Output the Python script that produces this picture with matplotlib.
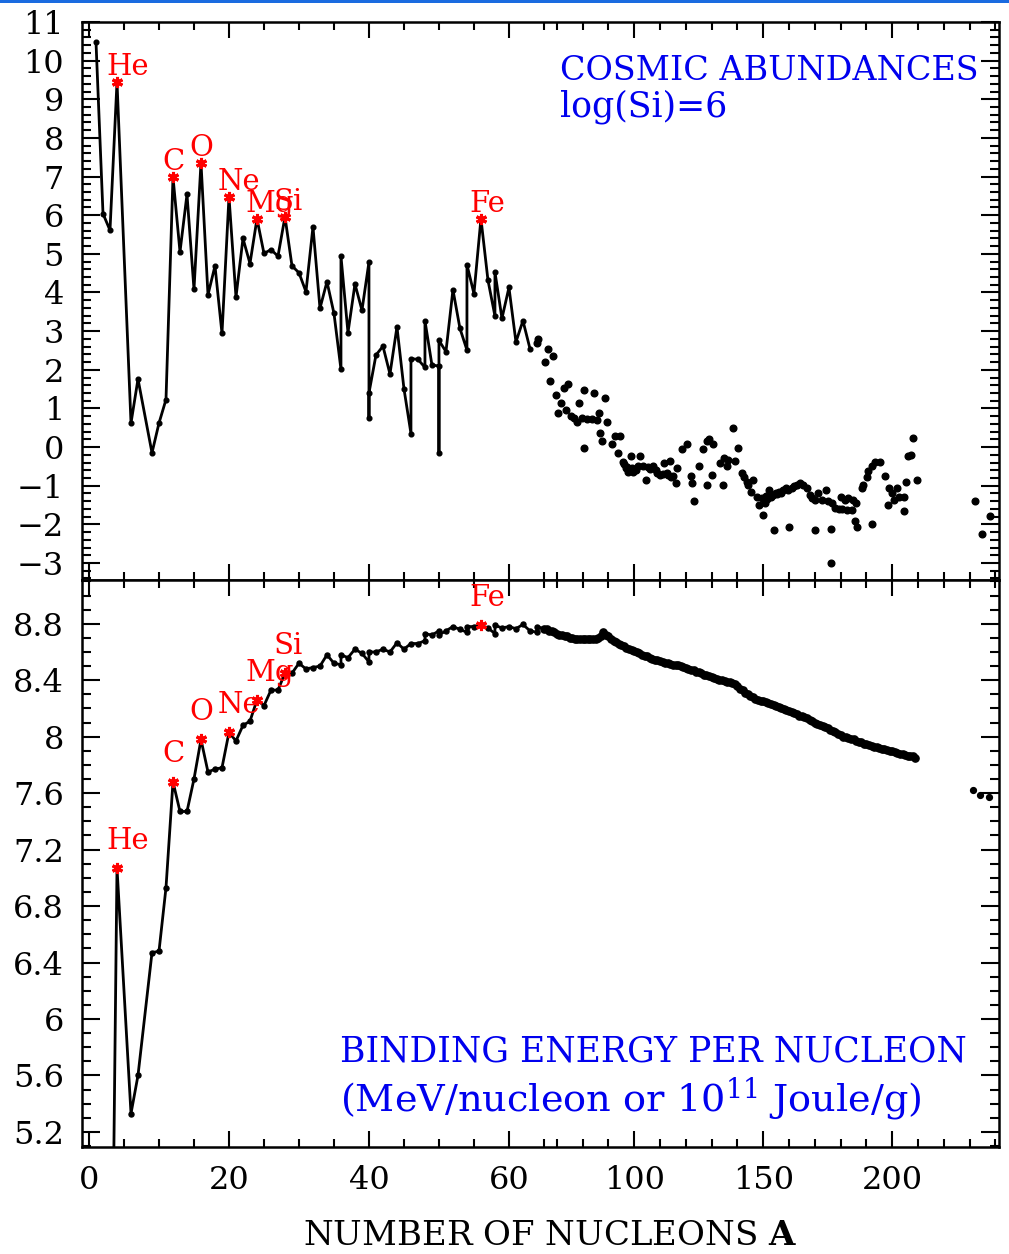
import numpy as np
import matplotlib
matplotlib.use('Agg')
import matplotlib.pyplot as plt
from matplotlib.ticker import FixedLocator, MultipleLocator, FuncFormatter
from matplotlib.patches import Rectangle

plt.rcParams['font.family'] = ['DejaVu Serif']
plt.rcParams['mathtext.fontset'] = 'dejavuserif'

# log abundances (Si = 10^6), connected part, sorted by mass number
abund_A = [1, 2, 3, 4, 6, 7, 9, 10, 11,
           12, 13, 14, 15, 16, 17, 18, 19, 20, 21, 22, 23, 24, 25, 26, 27,
           28, 29, 30, 31, 32, 33, 34, 35, 36, 36, 37, 38, 39, 40, 40, 40,
           41, 42, 43, 44, 45, 46, 46, 47, 48, 48, 49, 50, 50, 50, 51, 52,
           53, 54, 54, 55, 56, 57, 58, 58, 59, 60, 61, 62, 63]
abund_val = [10.48, 6.04, 5.61, 9.45, 0.62, 1.76, -0.15, 0.62, 1.23,
             6.99, 5.05, 6.54, 4.08, 7.36, 3.94, 4.69, 2.94, 6.48, 3.88, 5.40, 4.75, 5.91, 5.01, 5.11, 4.94,
             5.96, 4.69, 4.51, 4.02, 5.70, 3.59, 4.28, 3.46, 2.01, 4.94, 2.96, 4.22, 3.54, 4.79, 0.74, 1.40,
             2.38, 2.61, 1.89, 3.11, 1.51, 0.35, 2.29, 2.27, 2.06, 3.27, 2.12, 2.10, -0.15, 2.76, 2.47, 4.07,
             3.07, 2.51, 4.72, 3.97, 5.91, 4.32, 3.39, 4.53, 3.33, 4.13, 2.72, 3.27, 2.55]

# heavier isotopes, drawn as loose dots
heavy_A = [64.0, 64.2, 65.4, 66.4, 67.3, 68.4, 69.5, 70.3, 71.6, 72.8, 73.4, 74.4, 75.5, 76.7,
           77.7, 78.6, 79.6, 80.6, 80.6, 81.6, 83.5, 84.5, 85.4, 86.3, 86.7, 87.4, 88.6, 89.5,
           91.5, 92.5, 93.6, 94.5, 95.7, 96.2, 96.8, 97.2, 97.7, 98.6, 99.0, 99.6, 100.5, 101.6,
           102.2, 103.5, 104.4, 105.4, 106.3, 107.3, 108.3, 109.0, 110.0, 111.0, 111.6, 112.6,
           113.0, 113.8, 114.1, 115.1, 116.2, 116.5, 118.4, 120.3, 121.9, 122.5, 123.3, 125.2,
           126.8, 128.3, 128.3, 129.1, 130.2, 130.6, 133.2, 134.3, 134.8, 135.8, 136.4, 138.1,
           139.0, 140.1, 141.6, 142.5, 143.6, 144.2, 145.2, 146.1, 147.4, 148.4, 149.7, 150.0,
           150.8, 151.0, 151.6, 152.3, 153.0, 153.6, 154.3, 154.9, 155.5, 156.2, 157.0, 157.5,
           158.8, 159.5, 160.1, 161.0, 162.1, 163.0, 164.1, 165.3, 167.0, 168.1, 168.9, 170.0,
           170.1, 171.4, 172.7, 174.3, 175.0, 176.1, 176.1, 176.5, 177.9, 179.2, 180.2, 180.5,
           181.6, 182.4, 182.8, 184.4, 184.8, 185.4, 186.1, 186.4, 188.2, 188.8, 190.1, 190.7,
           192.0, 192.0, 193.3, 195.2, 197.2, 198.2, 198.7, 200.0, 200.6, 201.9, 202.5, 204.4,
           204.4, 205.4, 206.3, 207.2, 208.2, 209.5, 232.0, 235.0, 238.0]
heavy_val = [2.70, 2.80, 2.19, 2.53, 1.70, 2.36, 1.34, 0.87, 1.15, 1.52, 0.96, 1.62, 0.81, 0.76,
             0.64, 1.15, 0.74, 1.47, -0.02, 0.73, 0.72, 1.40, 0.70, 0.87, 0.37, 0.16, 1.27, 0.64,
             0.08, 0.29, -0.16, 0.29, -0.39, -0.45, -0.55, -0.52, -0.64, -0.23, -0.55, -0.64, -0.60, -0.50,
             -0.23, -0.50, -0.84, -0.52, -0.58, -0.50, -0.60, -0.66, -0.73, -0.70, -0.42, -0.67,
             -0.72, -0.36, -0.77, -0.75, -0.94, -0.55, -0.06, 0.08, -0.75, -0.92, -1.39, -0.49,
             -0.06, 0.16, -0.98, 0.20, -0.73, 0.09, -0.42, -0.98, -0.29, -0.50, -0.33, 0.50,
             -0.35, -0.02, -0.67, -0.77, -0.90, -0.98, -1.17, -0.86, -1.28, -1.50, -1.31, -1.76,
             -1.45, -1.26, -1.35, -1.11, -1.30, -1.23, -2.15, -1.19, -1.22, -1.15, -1.18, -1.11,
             -1.06, -1.10, -2.06, -1.05, -1.01, -0.98, -0.94, -0.98, -1.06, -1.24, -1.33, -2.15,
             -1.36, -1.20, -1.36, -1.11, -1.40, -2.13, -3.01, -1.44, -1.57, -1.61, -1.28, -1.61,
             -1.36, -1.63, -1.32, -1.63, -1.36, -1.92, -1.44, -2.06, -1.07, -0.98, -0.77, -0.62,
             -0.49, -2.00, -0.38, -0.38, -0.75, -1.50, -1.07, -1.19, -1.36, -1.07, -1.28, -1.28,
             -1.65, -0.90, -0.23, -0.21, 0.24, -0.86, -1.39, -2.25, -1.78]

# binding energy per nucleon (MeV), light nuclei
be_A_light = [3, 4, 6, 7, 9, 10, 11, 12, 13, 14, 15, 16, 17, 18, 19, 20, 21, 22, 23, 24,
              25, 26, 27, 28, 29, 30, 31, 32, 33, 34, 35, 36, 36, 37, 38, 39, 40, 40, 41, 42,
              43, 44, 45, 46, 47, 48, 48, 49, 50, 50, 51, 52, 53, 54, 54, 55, 56, 57, 58, 58,
              59, 60, 61, 62, 63, 64, 64]
be_light = [2.60, 7.07, 5.33, 5.60, 6.47, 6.48, 6.93, 7.68, 7.47, 7.47, 7.70, 7.98, 7.75, 7.77, 7.78, 8.03, 7.97, 8.08, 8.11, 8.26,
            8.22, 8.33, 8.33, 8.45, 8.45, 8.52, 8.48, 8.49, 8.50, 8.58, 8.52, 8.51, 8.58, 8.56, 8.62, 8.59, 8.53, 8.60, 8.60, 8.62,
            8.60, 8.665, 8.62, 8.66, 8.66, 8.68, 8.73, 8.72, 8.75, 8.72, 8.75, 8.78, 8.76, 8.74, 8.78, 8.78, 8.79, 8.77, 8.73, 8.79,
            8.77, 8.78, 8.765, 8.795, 8.75, 8.74, 8.78]

# binding energy per nucleon, A = 65 ... 209
be_A_mid = list(range(65, 210))
be_mid = [8.765, 8.76, 8.75, 8.75, 8.74, 8.73, 8.72, 8.72, 8.71, 8.71,
          8.70, 8.70, 8.69, 8.69, 8.69, 8.69, 8.69, 8.69, 8.69, 8.69,
          8.69, 8.70, 8.71, 8.74, 8.72, 8.71, 8.69, 8.68, 8.67, 8.66,
          8.65, 8.64, 8.63, 8.62, 8.615, 8.61, 8.60, 8.59, 8.58, 8.575,
          8.57, 8.56, 8.55, 8.545, 8.54, 8.535, 8.53, 8.525, 8.52, 8.515,
          8.51, 8.51, 8.505, 8.50, 8.495, 8.49, 8.48, 8.475, 8.47, 8.46,
          8.455, 8.45, 8.44, 8.435, 8.43, 8.42, 8.415, 8.41, 8.405, 8.40,
          8.395, 8.39, 8.385, 8.38, 8.37, 8.36, 8.34, 8.33, 8.31, 8.30,
          8.29, 8.28, 8.27, 8.26, 8.255, 8.25, 8.245, 8.24, 8.23, 8.225,
          8.22, 8.21, 8.20, 8.195, 8.19, 8.18, 8.175, 8.17, 8.16, 8.15,
          8.145, 8.14, 8.13, 8.12, 8.11, 8.10, 8.09, 8.08, 8.075, 8.07,
          8.06, 8.05, 8.04, 8.03, 8.02, 8.01, 8.00, 7.995, 7.99, 7.985,
          7.98, 7.97, 7.965, 7.96, 7.95, 7.945, 7.94, 7.935, 7.93, 7.925,
          7.92, 7.915, 7.91, 7.905, 7.90, 7.895, 7.89, 7.885, 7.88, 7.875,
          7.87, 7.865, 7.86, 7.86, 7.85]

# Th / U region
be_A_act = [231.4, 234.0, 237.6]
be_act = [7.62, 7.59, 7.57]

elements = ['He', 'C', 'O', 'Ne', 'Mg', 'Si', 'Fe']
elem_A = [4, 12, 16, 20, 24, 28, 56]

x_major = [0, 20, 40, 60, 100, 150, 200]
x_minor = list(range(5, 66, 5)) + list(range(70, 241, 10))

# x axis: linear up to A=65, compressed beyond
BREAK = 65.0
SQUEEZE = 2.58 / 7.0


def fwd(a):
    a = np.asarray(a, dtype=float)
    return np.where(a <= BREAK, a, BREAK + (a - BREAK) * SQUEEZE)


def inv(u):
    u = np.asarray(u, dtype=float)
    return np.where(u <= BREAK, u, BREAK + (u - BREAK) / SQUEEZE)


W, H = 1009, 1254
fig = plt.figure(figsize=(W / 100, H / 100), dpi=100)
fig.add_artist(Rectangle((0, 1 - 3 / H), 1, 3 / H, transform=fig.transFigure,
                         color='#1a6be0', lw=0))

left, right = 82, 999
ax1 = fig.add_axes([left / W, 1 - 580 / H, (right - left) / W, (580 - 22) / H])
ax2 = fig.add_axes([left / W, 1 - 1147 / H, (right - left) / W, (1147 - 580) / H])

blue = '#0000ee'
red = '#ff0000'

# top panel: abundances
ax1.plot(abund_A, abund_val, '-', color='k', lw=2.0, marker='o', ms=3.4)
ax1.plot(heavy_A, heavy_val, 'o', color='k', ms=4.8, ls='none')
top_lookup = dict(zip(abund_A, abund_val))
top_star = [top_lookup[a] for a in elem_A]
ax1.plot(elem_A, top_star, ls='none', marker=(6, 2, 0), color=red, ms=8, mew=2.2)
for name, a, v in zip(elements, elem_A, top_star):
    ax1.annotate(name, (a, v), xytext=(-8, 5), textcoords='offset points',
                 color=red, fontsize=21, ha='left', va='baseline')

# bottom panel: binding energy (light part thin, heavy part drawn as a dense band)
ax2.plot(be_A_light + be_A_mid[:1], be_light + be_mid[:1], '-', color='k', lw=2.0,
         marker='o', ms=3.6)
ax2.plot(be_A_mid, be_mid, '-', color='k', lw=3.0, marker='o', ms=5.2)
ax2.plot(be_A_act, be_act, 'o', color='k', ms=4.2, ls='none')
bot_lookup = dict(zip(be_A_light + be_A_mid, be_light + be_mid))
bot_star = [bot_lookup[a] for a in elem_A]
ax2.plot(elem_A, bot_star, ls='none', marker=(6, 2, 0), color=red, ms=8, mew=2.2)
for name, a, v in zip(elements, elem_A, bot_star):
    ax2.annotate(name, (a, v), xytext=(-8, 14), textcoords='offset points',
                 color=red, fontsize=21, ha='left', va='baseline')

fmt = FuncFormatter(lambda v, p: f'{round(v, 1):g}'.replace('-', '\u2212'))
for ax in (ax1, ax2):
    ax.set_xscale('function', functions=(fwd, inv))
    ax.set_xlim(-1, 241.4)
    ax.xaxis.set_major_locator(FixedLocator(x_major))
    ax.xaxis.set_minor_locator(FixedLocator(x_minor))
    ax.xaxis.set_major_formatter(FuncFormatter(lambda v, p: f'{v:.0f}'))
    ax.xaxis.set_minor_formatter(FuncFormatter(lambda v, p: ''))
    ax.yaxis.set_major_formatter(fmt)
    ax.tick_params(axis='both', which='both', direction='in', top=True, right=True,
                   width=1.5, labelsize=23, colors='k')
    ax.tick_params(axis='x', which='major', length=11.5, pad=13)
    ax.tick_params(axis='x', which='minor', length=5.8)
    ax.tick_params(axis='y', which='major', length=13, pad=13)
    ax.tick_params(axis='y', which='minor', length=6.5)
    for sp in ax.spines.values():
        sp.set_linewidth(1.8)

ax1.set_ylim(-3.44, 11)
ax1.yaxis.set_major_locator(MultipleLocator(1))
ax1.yaxis.set_minor_locator(MultipleLocator(0.2))
ax1.tick_params(axis='x', labelbottom=False)

ax2.set_ylim(5.093, 9.11)
ax2.yaxis.set_major_locator(MultipleLocator(0.4))
ax2.yaxis.set_minor_locator(MultipleLocator(0.1))


def px(x, y):
    return x / W, 1 - y / H


fig.text(*px(560, 80), 'COSMIC ABUNDANCES', color=blue, fontsize=24, ha='left', va='baseline')
fig.text(*px(560, 117), 'log(Si)=6', color=blue, fontsize=25, ha='left', va='baseline')
fig.text(*px(340, 1062), 'BINDING ENERGY PER NUCLEON', color=blue, fontsize=24.9,
         ha='left', va='baseline')
fig.text(*px(340, 1111), '(MeV/nucleon or 10$^{11}$ Joule/g)', color=blue, fontsize=27.5,
         ha='left', va='baseline')
fig.text(*px(550, 1245), 'NUMBER OF NUCLEONS $\\mathbf{A}$', color='k', fontsize=24.5,
         ha='center', va='baseline')

fig.savefig('out.png', dpi=100)
